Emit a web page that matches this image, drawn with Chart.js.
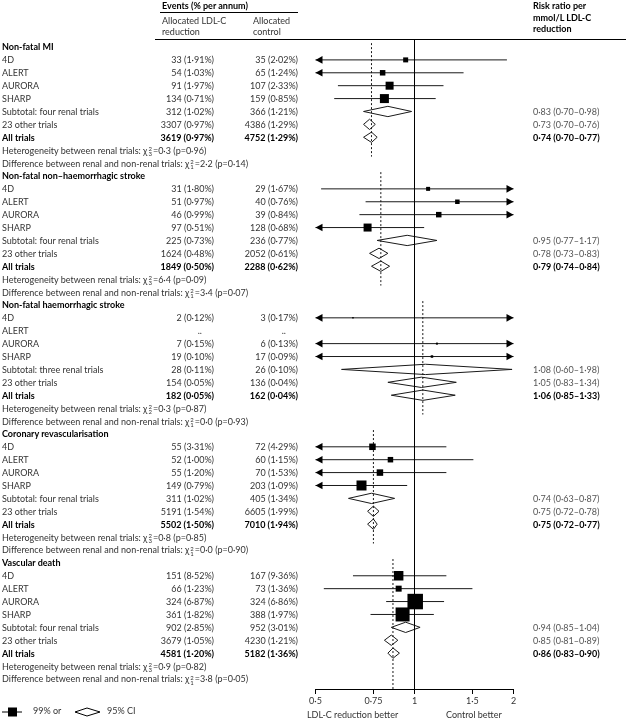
<!DOCTYPE html>
<html>
<head>
<meta charset="utf-8">
<script src="https://cdn.jsdelivr.net/npm/chart.js@4.4.1/dist/chart.umd.min.js"></script>
<style>
  body { margin: 0; background: #fff; }
  #wrap { position: relative; width: 626px; height: 721px; overflow: hidden;
          font-family: Lato, "Noto Sans", sans-serif; font-size: 9px; color: #333; }
  #c { position: absolute; left: 0; top: 0; }
  .t { position: absolute; white-space: nowrap; line-height: 11px; }
  .b { font-weight: bold; color: #000; }
  .g { color: #555; }
  .sx { display: inline-flex; flex-direction: column; vertical-align: middle; margin: 0 1px; }
  .sx span { font-size: 6px; line-height: 5px; }
  .rule { position: absolute; border-top: 1px solid #000; height: 0; }
</style>
</head>
<body>
<div id="wrap">
  <canvas id="c" width="626" height="721"></canvas>
  <div class="t b" style="left:162px;top:0px">Events (% per annum)</div>
  <div class="rule" style="left:160px;top:12px;width:138px"></div>
  <div class="t" style="left:162px;top:15px">Allocated LDL-C<br>reduction</div>
  <div class="t" style="left:253px;top:15px">Allocated<br>control</div>
  <div class="t b" style="left:533px;top:0px;line-height:11.5px">Risk ratio per<br>mmol/L LDL-C<br>reduction</div>
  <div class="rule" style="left:155px;top:39px;width:471px"></div>
  <div class="t" style="left:307px;top:709px">LDL-C reduction better</div>
  <div class="t" style="left:446px;top:709px">Control better</div>
  <div class="t" style="left:0px;top:705px">
    <svg width="108" height="12" style="vertical-align:middle">
      <line x1="2" y1="6" x2="22" y2="6" stroke="#000" stroke-width="1"/>
      <rect x="8" y="1.5" width="9" height="9" fill="#000"/>
      <polygon points="75,6 87,2 100,6 87,10" fill="none" stroke="#000" stroke-width="1"/>
    </svg>
  </div>
  <div class="t" style="left:33px;top:705px">99% or</div>
  <div class="t" style="left:107px;top:705px">95% CI</div>
</div>
<script>
const sections = ['Non-fatal MI', 'Non-fatal non–haemorrhagic stroke', 'Non-fatal haemorrhagic stroke',
                  'Coronary revascularisation', 'Vascular death'];
const trials = ['4D', 'ALERT', 'AURORA', 'SHARP'];
const subtotalNames = ['Subtotal: four renal trials', 'Subtotal: four renal trials', 'Subtotal: three renal trials',
                       'Subtotal: four renal trials', 'Subtotal: four renal trials'];

// events: 4 trials, subtotal, 23 other trials, all trials
const ldlEvents = [
  ['33 (1·91%)', '54 (1·03%)', '91 (1·97%)', '134 (0·71%)', '312 (1·02%)', '3307 (0·97%)', '3619 (0·97%)'],
  ['31 (1·80%)', '51 (0·97%)', '46 (0·99%)', '97 (0·51%)', '225 (0·73%)', '1624 (0·48%)', '1849 (0·50%)'],
  ['2 (0·12%)', '..', '7 (0·15%)', '19 (0·10%)', '28 (0·11%)', '154 (0·05%)', '182 (0·05%)'],
  ['55 (3·31%)', '52 (1·00%)', '55 (1·20%)', '149 (0·79%)', '311 (1·02%)', '5191 (1·54%)', '5502 (1·50%)'],
  ['151 (8·52%)', '66 (1·23%)', '324 (6·87%)', '361 (1·82%)', '902 (2·85%)', '3679 (1·05%)', '4581 (1·20%)']
];
const ctrlEvents = [
  ['35 (2·02%)', '65 (1·24%)', '107 (2·33%)', '159 (0·85%)', '366 (1·21%)', '4386 (1·29%)', '4752 (1·29%)'],
  ['29 (1·67%)', '40 (0·76%)', '39 (0·84%)', '128 (0·68%)', '236 (0·77%)', '2052 (0·61%)', '2288 (0·62%)'],
  ['3 (0·17%)', '..', '6 (0·13%)', '17 (0·09%)', '26 (0·10%)', '136 (0·04%)', '162 (0·04%)'],
  ['72 (4·29%)', '60 (1·15%)', '70 (1·53%)', '203 (1·09%)', '405 (1·34%)', '6605 (1·99%)', '7010 (1·94%)'],
  ['167 (9·36%)', '73 (1·36%)', '324 (6·86%)', '388 (1·97%)', '952 (3·01%)', '4230 (1·21%)', '5182 (1·36%)']
];

// per-trial risk ratios with 99% CI
const trialRR = [
  [0.94, 0.80, 0.84, 0.81],
  [1.10, 1.35, 1.185, 0.72],
  [0.65, null, 1.17, 1.13],
  [0.745, 0.845, 0.785, 0.69],
  [0.895, 0.895, 1.005, 0.92]
];
const trialLo = [
  [0.40, 0.40, 0.585, 0.57],
  [0.52, 0.71, 0.68, 0.40],
  [0.40, null, 0.40, 0.40],
  [0.40, 0.40, 0.40, 0.40],
  [0.65, 0.53, 0.82, 0.735]
];
const trialHi = [
  [1.91, 1.41, 1.225, 1.16],
  [2.5, 2.5, 2.5, 1.07],
  [2.5, null, 2.5, 2.5],
  [1.25, 1.51, 1.25, 0.95],
  [1.25, 1.50, 1.23, 1.145]
];
const trialWeight = [
  [5, 5.5, 8, 9],
  [4, 4.5, 5.5, 8],
  [1.5, 0, 2, 2.5],
  [6.5, 5.5, 6.5, 10],
  [9.5, 6, 15.5, 14]
];

// summary estimates: [RR, lower, upper]
const subtotalRR = [[0.83, 0.70, 0.98], [0.95, 0.77, 1.17], [1.08, 0.60, 1.98], [0.74, 0.63, 0.87], [0.94, 0.85, 1.04]];
const otherRR    = [[0.73, 0.70, 0.76], [0.78, 0.73, 0.83], [1.05, 0.83, 1.34], [0.75, 0.72, 0.78], [0.85, 0.81, 0.89]];
const allRR      = [[0.74, 0.70, 0.77], [0.79, 0.74, 0.84], [1.06, 0.85, 1.33], [0.75, 0.72, 0.77], [0.86, 0.83, 0.90]];

// [df, chi-square, p]
const heterogeneity = [['3', '0·3', '0·96'], ['3', '6·4', '0·09'], ['2', '0·3', '0·87'], ['3', '0·8', '0·85'], ['3', '0·9', '0·82']];
const difference    = [['1', '2·2', '0·14'], ['1', '3·4', '0·07'], ['1', '0·0', '0·93'], ['1', '0·0', '0·90'], ['1', '3·8', '0·05']];

const xTicks = [0.5, 0.75, 1, 1.5, 2];
const axisMin = 0.5, axisMax = 2, nullValue = 1;
const yMin = -0.62, yMax = 49.78;
const rowsPerSection = 10;
const diamondHalf = 0.4;

const fmt = (v) => v.toFixed(2).replace('.', '·');
const rrText = (d) => fmt(d[0]) + ' (' + fmt(d[1]) + '–' + fmt(d[2]) + ')';
const chi = (d) => 'χ<span class="sx"><span>2</span><span>' + d[0] + '</span></span>=' + d[1] + ' (p=' + d[2] + ')';

var datasets = [];
var line = function(pts, extra) {
    datasets.push(Object.assign({
        data: pts, showLine: true, pointRadius: 0, borderColor: '#1a1a1a',
        borderWidth: 1, clip: false, order: 1
    }, extra || {}));
};

line([{x: nullValue, y: yMin}, {x: nullValue, y: yMax}], {borderColor: '#000'});

var arrows = [];
var boxes = [];
var boxRadius = [];

sections.forEach(function(name, s) {
    var base = s * rowsPerSection;
    var all = allRR[s];
    var end = (s === sections.length - 1) ? yMax : base + 8.5;
    line([{x: all[0], y: base - 0.3}, {x: all[0], y: end}], {borderDash: [2, 2]});

    trials.forEach(function(t, k) {
        var est = trialRR[s][k];
        if (est == null) return;
        var row = base + 1 + k;
        var lo = Math.max(trialLo[s][k], axisMin);
        var hi = Math.min(trialHi[s][k], axisMax);
        line([{x: lo, y: row}, {x: hi, y: row}]);
        if (trialLo[s][k] < axisMin) arrows.push({x: axisMin, y: row, dir: -1});
        if (trialHi[s][k] > axisMax) arrows.push({x: axisMax, y: row, dir: 1});
        boxes.push({x: est, y: row});
        boxRadius.push(trialWeight[s][k] * 0.7071);
    });

    [subtotalRR[s], otherRR[s], allRR[s]].forEach(function(d, j) {
        var row = base + 5 + j;
        line([{x: d[1], y: row}, {x: d[0], y: row - diamondHalf}, {x: d[2], y: row},
              {x: d[0], y: row + diamondHalf}, {x: d[1], y: row}]);
    });
});

datasets.push({
    data: boxes, pointStyle: 'rect', pointRadius: boxRadius, pointHoverRadius: boxRadius,
    backgroundColor: '#000', borderWidth: 0, clip: false, order: 0
});

var arrowPlugin = {
    id: 'arrows',
    afterDatasetsDraw: function(chart) {
        var ctx = chart.ctx, xs = chart.scales.x, ys = chart.scales.y;
        ctx.save();
        ctx.fillStyle = '#000';
        arrows.forEach(function(a) {
            var px = xs.getPixelForValue(a.x), py = ys.getPixelForValue(a.y);
            ctx.beginPath();
            ctx.moveTo(px, py);
            ctx.lineTo(px - a.dir * 7, py - 3.8);
            ctx.lineTo(px - a.dir * 7, py + 3.8);
            ctx.closePath();
            ctx.fill();
        });
        ctx.restore();
    }
};

var plotTop = 39, plotBottom = 689;

var ctx = document.getElementById('c').getContext('2d');
var chart = new Chart(ctx, {
    type: 'scatter',
    data: { datasets: datasets },
    options: {
        responsive: false,
        animation: false,
        events: [],
        layout: { padding: { left: 315.5, right: 112.5, top: plotTop, bottom: 4 } },
        plugins: { legend: { display: false }, tooltip: { enabled: false } },
        scales: {
            x: {
                type: 'logarithmic', position: 'bottom', min: axisMin, max: axisMax,
                afterBuildTicks: function(scale) { scale.ticks = xTicks.map(function(v) { return {value: v}; }); },
                afterFit: function(scale) { scale.height = 28; },
                ticks: {
                    autoSkip: false, maxRotation: 0, padding: 2, color: '#333',
                    font: { family: 'Lato', size: 9 },
                    callback: function(v) { return String(v).replace('.', '·'); }
                },
                grid: { drawOnChartArea: false, drawTicks: true, tickLength: 5, color: '#000' },
                border: { display: true, color: '#000', width: 1 }
            },
            y: { type: 'linear', display: false, reverse: true, min: yMin, max: yMax }
        }
    },
    plugins: [arrowPlugin]
});

// keep the plot box where the reference puts it
var pad = chart.options.layout.padding;
var dyB = plotBottom - chart.chartArea.bottom, dyT = plotTop - chart.chartArea.top;
if (Math.abs(dyB) > 0.2 || Math.abs(dyT) > 0.2) {
    pad.bottom -= dyB;
    pad.top += dyT;
    chart.update();
}

// text columns, placed on the chart's own row scale
var wrap = document.getElementById('wrap');
var yScale = chart.scales.y;
var labelX = 2, ldlRight = 214, ctrlRight = 298, rrX = 533;

function put(html, x, row, cls, right) {
    var d = document.createElement('div');
    d.className = 't ' + (cls || '');
    d.innerHTML = html;
    d.style.top = (yScale.getPixelForValue(row) - 5.5) + 'px';
    if (right) {
        d.style.left = (x - 140) + 'px';
        d.style.width = '140px';
        d.style.textAlign = 'right';
        if (html === '..') { d.style.paddingRight = '12px'; d.style.width = '128px'; }
    } else {
        d.style.left = x + 'px';
    }
    wrap.appendChild(d);
}

sections.forEach(function(name, s) {
    var base = s * rowsPerSection;
    put(name, labelX, base, 'b');
    trials.forEach(function(t, k) {
        put(t, labelX, base + 1 + k);
        put(ldlEvents[s][k], ldlRight, base + 1 + k, '', true);
        put(ctrlEvents[s][k], ctrlRight, base + 1 + k, '', true);
    });
    put(subtotalNames[s], labelX, base + 5);
    put(ldlEvents[s][4], ldlRight, base + 5, '', true);
    put(ctrlEvents[s][4], ctrlRight, base + 5, '', true);
    put(rrText(subtotalRR[s]), rrX, base + 5, 'g');
    put('23 other trials', labelX, base + 6);
    put(ldlEvents[s][5], ldlRight, base + 6, '', true);
    put(ctrlEvents[s][5], ctrlRight, base + 6, '', true);
    put(rrText(otherRR[s]), rrX, base + 6, 'g');
    put('All trials', labelX, base + 7, 'b');
    put(ldlEvents[s][6], ldlRight, base + 7, 'b', true);
    put(ctrlEvents[s][6], ctrlRight, base + 7, 'b', true);
    put(rrText(allRR[s]), rrX, base + 7, 'b');
    put('Heterogeneity between renal trials: ' + chi(heterogeneity[s]), labelX, base + 8);
    put('Difference between renal and non-renal trials: ' + chi(difference[s]), labelX, base + 9);
});
</script>
</body>
</html>
